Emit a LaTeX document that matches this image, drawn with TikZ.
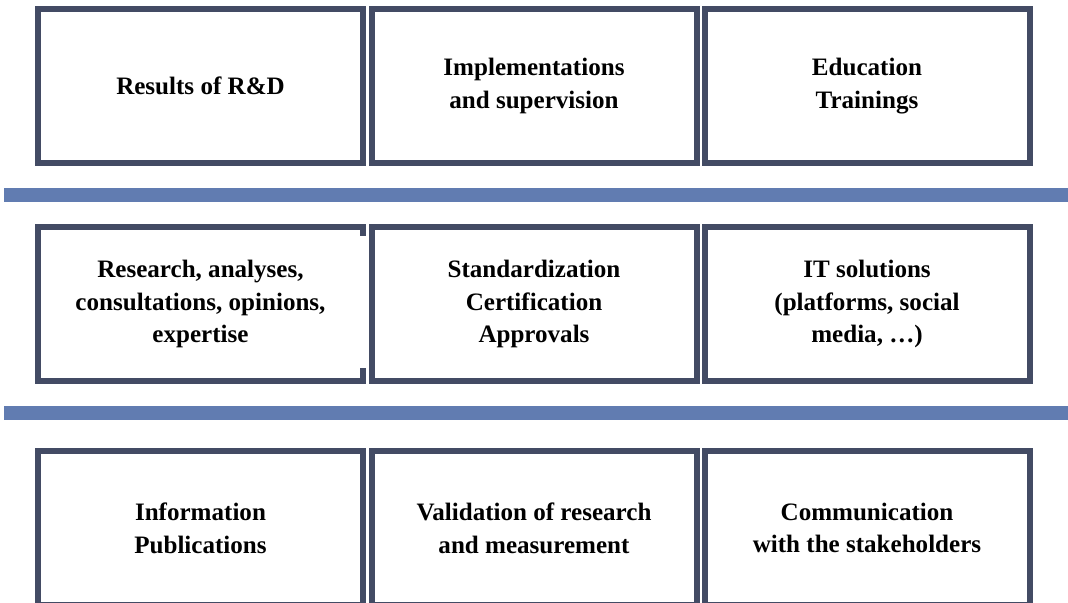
\documentclass[tikz,border=0pt]{standalone}
\usepackage{fontspec}
\setmainfont{Liberation Serif}
\usetikzlibrary{calc}
\definecolor{boxc}{HTML}{434B64}
\definecolor{barc}{HTML}{617CB1}
\begin{document}
\begin{tikzpicture}[x=0.75pt,y=-0.75pt,
  boxline/.style={draw=boxc,line width=4.5pt},
  cell/.style={minimum width=243.75pt,minimum height=115.5pt,inner sep=0pt,
    font=\fontsize{18.8}{24.5}\selectfont\bfseries,align=center,text=black},
  framed/.style={cell,boxline}]
\useasboundingbox (0,0) rectangle (1068,603);
\clip (0,0) rectangle (1068,603);
\fill[white] (0,0) rectangle (1068,603);
% separator bars
\fill[barc] (4,188) rectangle (1068,202);
\fill[barc] (4,406) rectangle (1068,420);
% row 1
\node[framed] (b11) at (200.5,86) {Results of R\&D};
\node[framed] (b12) at (534,86) {Implementations\\and supervision};
\node[framed] (b13) at (867,86) {Education\\Trainings};
% row 2
\node[cell] (b21) at (200.5,304) {Research, analyses,\\consultations, opinions,\\expertise};
\draw[boxline] ($(b21.north east)+(0,9)$) -- (b21.north east) -- (b21.north west)
  -- (b21.south west) -- (b21.south east) -- ($(b21.south east)+(0,-13)$);
\node[framed] (b22) at (534,304) {Standardization\\Certification\\Approvals};
\node[framed] (b23) at (867,304) {IT solutions\\(platforms, social\\media, \dots)};
% row 3
\node[framed] (b31) at (200.5,528) {Information\\Publications};
\node[framed] (b32) at (534,528) {Validation of research\\and measurement};
\node[framed] (b33) at (867,528) {Communication\\with the stakeholders};
\end{tikzpicture}
\end{document}
